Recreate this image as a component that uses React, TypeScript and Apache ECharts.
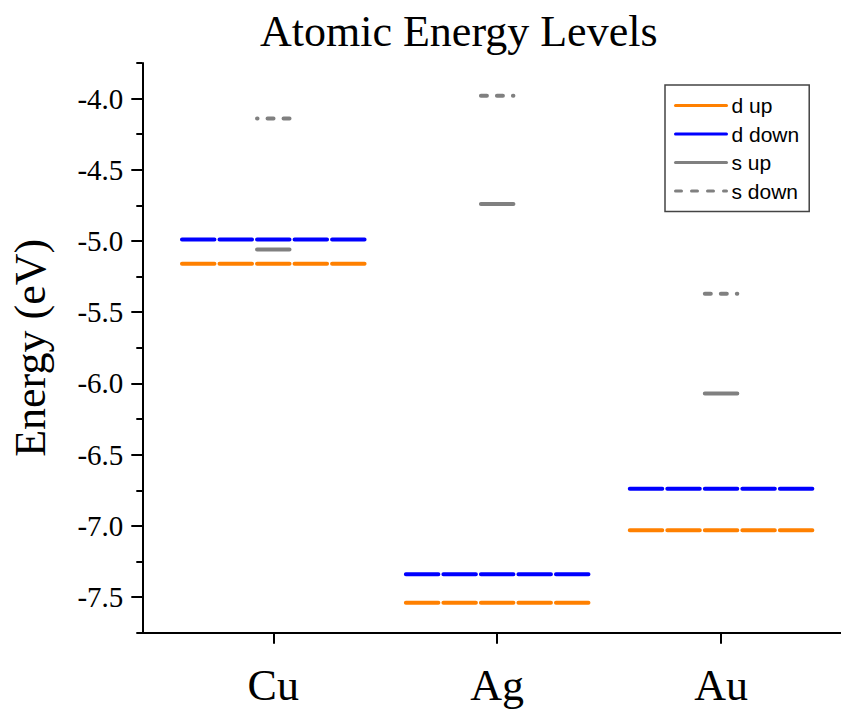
import React, { useEffect, useRef } from 'react';
import * as echarts from 'echarts';

// ---- data ----
const elements = ['Cu', 'Ag', 'Au'];
const elementX = [1, 2, 3];
const dUp = [-5.16, -7.54, -7.03];
const dDown = [-4.99, -7.34, -6.74];
const sUp = [-5.06, -4.74, -6.07];
const sDown = [-4.14, -3.98, -5.37];
const yMajorTicks = [-7.5, -7.0, -6.5, -6.0, -5.5, -5.0, -4.5, -4.0];
const yMinorTicks = [-7.75, -7.25, -6.75, -6.25, -5.75, -5.25, -4.75, -4.25, -3.75];

// ---- layout constants (segment geometry in x-axis units) ----
const SEG = 0.1676;
const GAP = 0.0112;
const SERIF = 'Liberation Serif';
const SANS = 'Liberation Sans';

function levelData(values: number[], nSeg: number, reverse?: boolean[]) {
  const out: any[] = [];
  values.forEach((v, i) => {
    const c = elementX[i];
    for (let k = 0; k < nSeg; k++) {
      const a = c - (nSeg * SEG) / 2 + k * SEG + GAP;
      const b = a + SEG - 2 * GAP;
      const pts: any[] = [[a, v], [b, v]];
      if (reverse && reverse[i]) pts.reverse();
      out.push(...pts, [b, '-']);
    }
  });
  return out;
}

function lineSeries(name: string, data: any[], color: string, type: any = 'solid') {
  return {
    name,
    type: 'line',
    data,
    symbol: 'none',
    showSymbol: false,
    connectNulls: false,
    silent: true,
    itemStyle: { color },
    lineStyle: { color, width: 4, cap: 'round', type },
    emphasis: { disabled: true },
  };
}

export default function App() {
  const ref = useRef<HTMLDivElement>(null);
  useEffect(() => {
    if (!ref.current) return;
    const chart = echarts.init(ref.current, undefined, { renderer: 'svg' });
    const option: any = {
      animation: false,
      backgroundColor: '#ffffff',
      title: {
        text: 'Atomic Energy Levels',
        left: 260,
        top: 9,
        padding: 0,
        textStyle: { fontFamily: SERIF, fontSize: 44, fontWeight: 'normal', color: '#000' },
      },
      legend: {
        orient: 'vertical',
        left: 665,
        top: 85,
        padding: [10, 10, 10, 9],
        itemWidth: 51,
        itemHeight: 14,
        itemGap: 7.5,
        backgroundColor: '#fff',
        borderColor: '#444',
        borderWidth: 1.5,
        borderRadius: 0,
        lineStyle: { width: 3 },
        itemStyle: { opacity: 0, borderWidth: 0 },
        textStyle: { fontFamily: SANS, fontSize: 21, color: '#000' },
        data: ['d up', 'd down', 's up', 's down'],
      },
      grid: {
        left: 142.3,
        top: 63,
        bottom: 76.3,
        right: -14.4,
        containLabel: false,
        outerBoundsMode: 'none',
      },
      xAxis: {
        type: 'value',
        min: 0.415,
        max: 3.6,
        axisLine: { show: true, onZero: false, lineStyle: { color: '#000', width: 2 } },
        axisTick: { show: true, inside: false, length: 11, customValues: elementX, lineStyle: { color: '#000', width: 2 } },
        axisLabel: {
          customValues: elementX,
          formatter: (v: number) => elements[elementX.indexOf(Math.round(v))] ?? '',
          fontFamily: SERIF,
          fontSize: 44,
          lineHeight: 44,
          color: '#000',
          margin: 31,
        },
        splitLine: { show: false },
      },
      yAxis: [
        {
          type: 'value',
          min: -7.75,
          max: -3.75,
          interval: 0.25,
          name: 'Energy (eV)',
          nameLocation: 'middle',
          nameGap: 90,
          nameMoveOverlap: false,
          nameTextStyle: { fontFamily: SERIF, fontSize: 44, color: '#000' },
          axisLine: { show: true, onZero: false, lineStyle: { color: '#000', width: 2 } },
          axisTick: { show: true, inside: false, length: 11, customValues: yMajorTicks, lineStyle: { color: '#000', width: 2 } },
          axisLabel: {
            customValues: yMajorTicks,
            formatter: (v: number) => v.toFixed(1),
            fontFamily: SERIF,
            fontSize: 29,
            color: '#000',
            margin: 19,
          },
          splitLine: { show: false },
        },
        {
          type: 'value',
          min: -7.75,
          max: -3.75,
          interval: 0.25,
          position: 'left',
          offset: 0,
          axisLine: { show: false, onZero: false },
          axisTick: { show: true, inside: false, length: 6, customValues: yMinorTicks, lineStyle: { color: '#000', width: 2 } },
          axisLabel: { show: false },
          splitLine: { show: false },
        },
      ],
      series: [
        lineSeries('d up', levelData(dUp, 5), '#ff8000'),
        lineSeries('d down', levelData(dDown, 5), '#0000ff'),
        lineSeries('s up', levelData(sUp, 1), '#808080'),
        lineSeries('s down', levelData(sDown, 1, [true, false, false]), '#808080', [6, 10]),
      ],
    };
    chart.setOption(option);
    return () => chart.dispose();
  }, []);
  return (
    <div
      ref={ref}
      style={{ position: 'absolute', left: 0, top: 0, width: 841, height: 709 }}
    />
  );
}
